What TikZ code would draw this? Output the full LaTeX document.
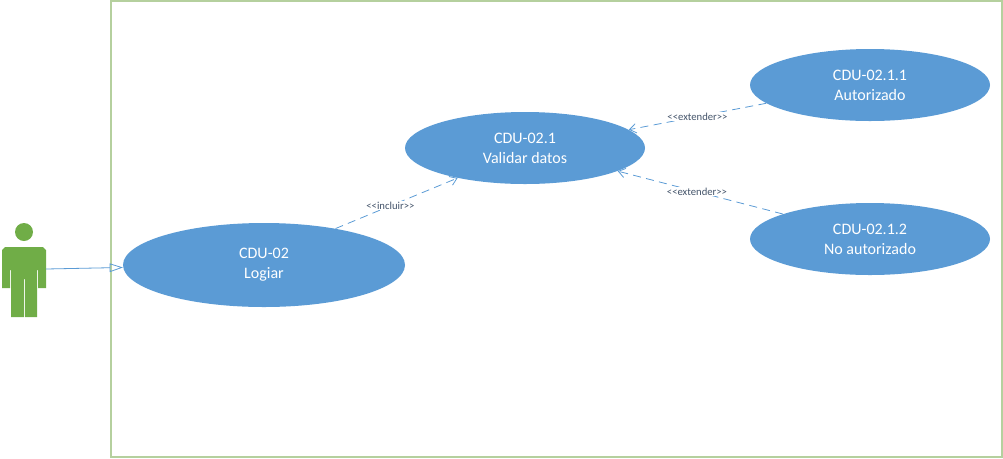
\documentclass[tikz,border=0pt]{standalone}
\usepackage{fontspec}
\setmainfont{Carlito}
\usepackage{xcolor}
\usetikzlibrary{arrows.meta, shapes.geometric}

\definecolor{usecaseblue}{HTML}{5B9BD5}
\definecolor{actorgreen}{HTML}{70AD47}
\definecolor{boxgreen}{HTML}{B5D09E}
\definecolor{labelgray}{HTML}{44546A}

\begin{document}
\begin{tikzpicture}[x=0.75pt, y=-0.75pt,
      usecase/.style={ellipse, fill=usecaseblue, inner sep=0pt, align=center,
        text=white, font=\fontsize{12}{15}\selectfont},
      smallcase/.style={usecase, minimum width=180pt, minimum height=54pt},
      relation/.style={usecaseblue, dashed, dash pattern=on 6pt off 4pt, line width=0.6pt,
        -{Straight Barb[length=5pt, width=7pt]}},
      stereotype/.style={fill=white, inner sep=0.5pt, text=labelgray,
        font=\fontsize{8}{9}\selectfont}]
      \useasboundingbox (0,0) rectangle (1003,458);
      \draw[boxgreen, line width=1.4pt] (111,1) rectangle (1002,457);

      % actor
      \fill[actorgreen] (24,232) circle (9);
      \fill[actorgreen] (5,247) -- (43,247) -- (46,250) -- (46,288) -- (38,288) -- (38,270)
        -- (37,270) -- (37,317) -- (25,317) -- (25,279) -- (24,279) -- (24,317) -- (11,317)
        -- (11,270) -- (10,270) -- (10,288) -- (2,288) -- (2,250) -- cycle;
      \coordinate (hand) at (46,269);

      \node[usecase, minimum width=211.5pt, minimum height=63pt] (logiar) at (264,265) {CDU-02\\Logiar};
      \node[smallcase] (validar) at (525,148) {CDU-02.1\\Validar datos};
      \node[smallcase] (autorizado) at (870,85) {CDU-02.1.1\\Autorizado};
      \node[smallcase] (noautorizado) at (870,239) {CDU-02.1.2\\No autorizado};

      \draw[usecaseblue, line width=0.6pt, -{Triangle[open, length=10pt, width=6.5pt]}] (hand) -- (logiar.181);
      \draw[relation] (logiar.27) -- node[stereotype, pos=0.45] {{<}{<}incluir{>}{>}} (validar.204);
      \draw[relation] (autorizado.190) -- node[stereotype, pos=0.5] {{<}{<}extender{>}{>}} (validar.10);
      \draw[relation] (noautorizado.164) -- node[stereotype, pos=0.52] {{<}{<}extender{>}{>}} (validar.-14);
    \end{tikzpicture}
\end{document}
